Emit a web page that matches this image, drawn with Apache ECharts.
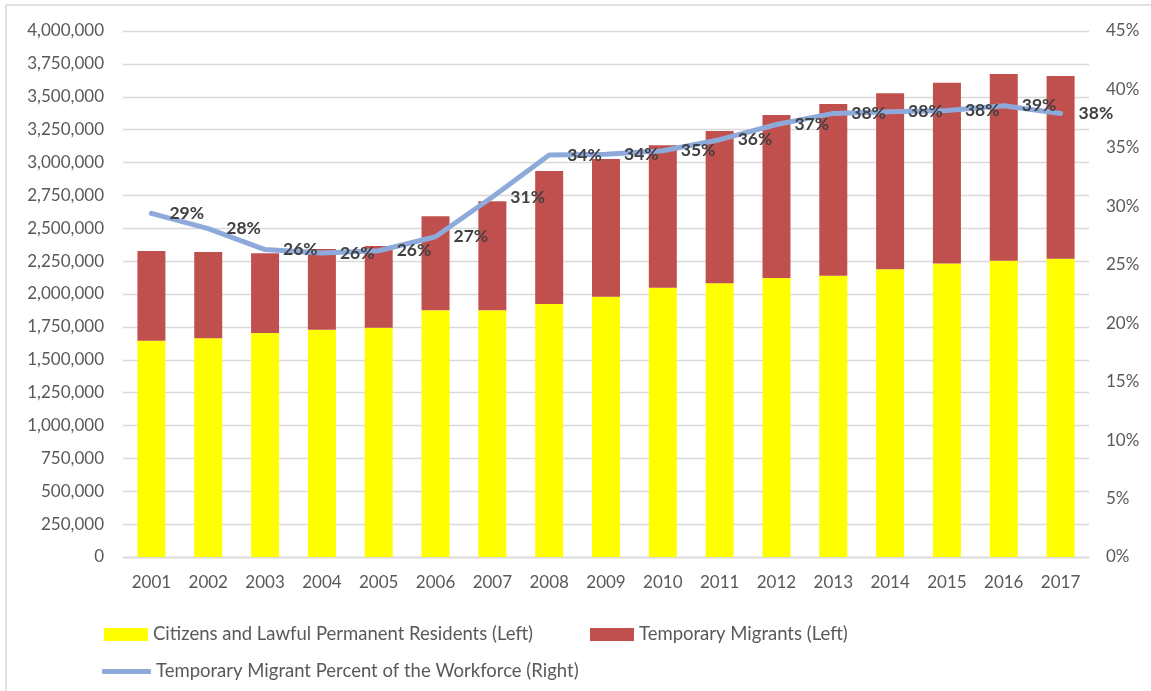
<!DOCTYPE html>
<html>
<head>
<meta charset="utf-8">
<script src="https://cdn.jsdelivr.net/npm/echarts@6/dist/echarts.min.js"></script>
<style>
html,body{margin:0;padding:0;background:#fff;}
#chart{width:1151px;height:691px;}
</style>
</head>
<body>
<div id="chart"></div>
<script>
const years = ['2001','2002','2003','2004','2005','2006','2007','2008','2009','2010','2011','2012','2013','2014','2015','2016','2017'];
const citizens = [1645000,1663000,1703000,1729000,1744000,1876000,1876000,1924000,1980000,2048000,2081000,2122000,2139000,2188000,2231000,2253000,2269000];
const totals = [2327000,2319000,2309000,2342000,2365000,2591000,2705000,2935000,3027000,3131000,3240000,3361000,3445000,3526000,3607000,3673000,3658000];
const temporary = totals.map((t, i) => t - citizens[i]);
const tempPercent = [29.4,28.1,26.3,26.0,26.2,27.4,30.8,34.4,34.45,34.75,35.7,37.0,37.95,38.1,38.2,38.6,37.95];
const leftTicks = {min: 0, max: 4000000, step: 250000};
const rightTicks = {min: 0, max: 45, step: 5};
const names = ['Citizens and Lawful Permanent Residents (Left)', 'Temporary Migrants (Left)', 'Temporary Migrant Percent of the Workforce (Right)'];

const FONT = 'Lato';
const axisText = {color: '#595959', fontFamily: FONT, fontSize: 17};
const chart = echarts.init(document.getElementById('chart'), null, {renderer: 'canvas'});
const legendBase = {
  orient: 'horizontal', itemWidth: 44, itemHeight: 13, selectedMode: false,
  textStyle: {color: '#595959', fontFamily: FONT, fontSize: 18.5}
};
chart.setOption({
  animation: false,
  backgroundColor: '#fff',
  grid: {left: 123, right: 62, top: 31, bottom: 134, containLabel: false},
  graphic: [
    {type: 'line', shape: {x1: 6, y1: 5, x2: 6, y2: 691}, style: {stroke: '#d9d9d9', lineWidth: 1.5}},
    {type: 'line', shape: {x1: 6, y1: 5, x2: 1151, y2: 5}, style: {stroke: '#d9d9d9', lineWidth: 1.5}}
  ],
  legend: [
    Object.assign({}, legendBase, {left: 99, top: 620, data: [{name: names[0], icon: 'rect'}]}),
    Object.assign({}, legendBase, {left: 585, top: 620, data: [{name: names[1], icon: 'rect'}]}),
    Object.assign({}, legendBase, {left: 97, top: 657, itemWidth: 49, itemHeight: 5,
      data: [{name: names[2], icon: 'roundRect', itemStyle: {color: '#8eaadb', opacity: 1}}]})
  ],
  xAxis: {
    type: 'category', data: years,
    axisTick: {show: false},
    axisLine: {lineStyle: {color: '#d9d9d9', width: 1.3}},
    axisLabel: Object.assign({margin: 17}, axisText)
  },
  yAxis: [
    {
      type: 'value', min: leftTicks.min, max: leftTicks.max, interval: leftTicks.step,
      axisLine: {show: false}, axisTick: {show: false},
      splitLine: {lineStyle: {color: '#d9d9d9', width: 1.3}},
      axisLabel: Object.assign({margin: 19, formatter: v => v.toLocaleString('en-US')}, axisText)
    },
    {
      type: 'value', min: rightTicks.min, max: rightTicks.max, interval: rightTicks.step,
      axisLine: {show: false}, axisTick: {show: false}, splitLine: {show: false},
      axisLabel: Object.assign({margin: 17, formatter: '{value}%'}, axisText)
    }
  ],
  series: [
    {name: names[0], type: 'bar', stack: 'w', data: citizens, barWidth: 28, itemStyle: {color: '#ffff00'}},
    {name: names[1], type: 'bar', stack: 'w', data: temporary, barWidth: 28, itemStyle: {color: '#c0504d'}},
    {
      name: names[2], type: 'line', yAxisIndex: 1, data: tempPercent,
      showSymbol: true, symbol: 'circle', symbolSize: 2, z: 5,
      lineStyle: {color: '#8eaadb', width: 5, join: 'round', cap: 'round'},
      itemStyle: {color: '#8eaadb'},
      label: {
        show: true, position: 'right', distance: 17,
        formatter: p => Math.round(p.value) + '%',
        color: '#404040', fontFamily: FONT, fontWeight: 'bold', fontSize: 17.5
      },
      labelLayout: {hideOverlap: false}
    }
  ]
});
</script>
</body>
</html>
